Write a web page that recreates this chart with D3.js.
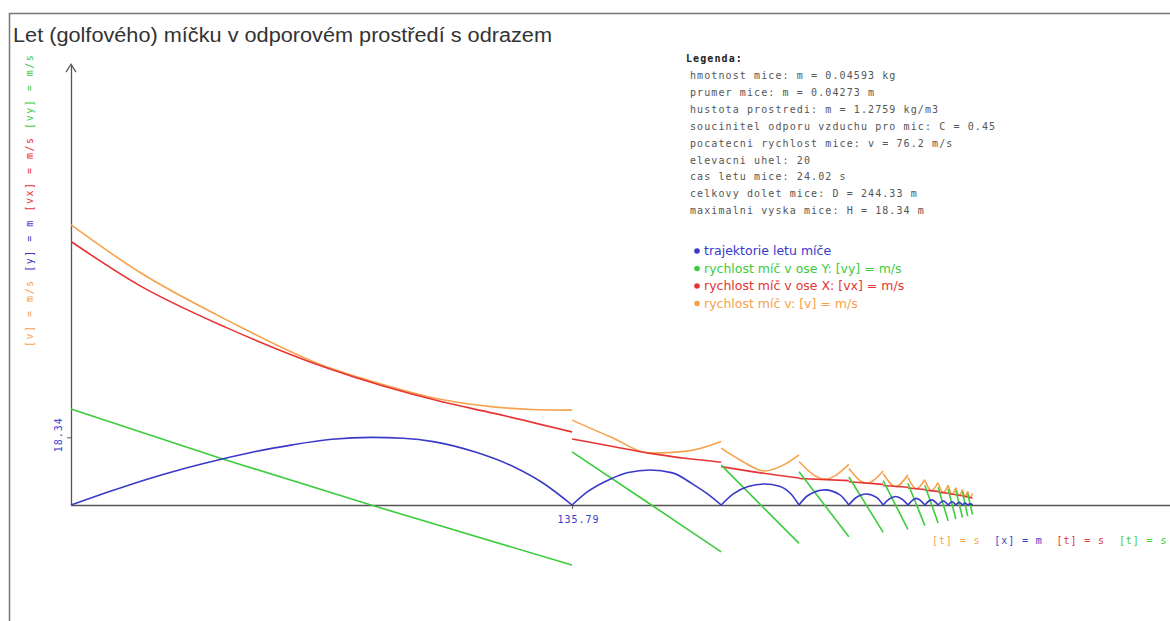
<!DOCTYPE html>
<html>
<head>
<meta charset="utf-8">
<script src="https://cdn.jsdelivr.net/npm/d3@7"></script>
<style>
  html, body { margin: 0; padding: 0; background: #fff; }
  svg { display: block; }
</style>
</head>
<body>
<svg id="chart" width="1170" height="621"></svg>
<script>
// Ball trajectory, one array of [distance m, height m] per hop
const trajHops = [
  [[0,0],[10,3.5],[20,6.8],[30,9.7],[40.7,12.4],[50,14.5],[60,16.3],[70.7,17.8],[81.3,18.34],[90,18.1],[98.6,17.1],[110,14.2],[120.1,10.3],[128,5.9],[135.79,0]],
  [[135.79,0],[140,3.6],[146.1,7.0],[151,8.8],[157,9.5],[163,8.7],[168.6,5.6],[172.5,3.0],[176.2,0]],
  [[176.2,0],[179.5,3.0],[183.5,5.0],[188,5.7],[192,5.1],[195,3.1],[197.3,0]],
  [[197.3,0],[199.6,2.5],[204.3,4.1],[208.3,2.8],[210.8,0]],
  [[210.8,0],[212.6,1.9],[215.6,3.0],[218.4,2.0],[220.1,0]],
  [[220.1,0],[221.6,1.5],[223.5,2.3],[225.3,1.5],[226.8,0]],
  [[226.8,0],[229.1,1.8],[231.4,0]],
  [[231.4,0],[233.2,1.4],[235.0,0]],
  [[235.0,0],[236.4,1.1],[237.7,0]],
  [[237.7,0],[238.8,0.9],[239.8,0]],
  [[239.8,0],[240.7,0.7],[241.6,0]],
  [[241.6,0],[242.3,0.5],[243.0,0]],
  [[243.0,0],[243.7,0.3],[244.33,0]]
];

// Vertical velocity vy [m/s], one segment per hop
const vySegments = [
  [[0,26.0],[40.7,12.6],[81.3,0],[135.79,-16.3]],
  [[135.79,14.4],[157.3,0],[176.2,-12.7]],
  [[176.2,10.8],[197.3,-10.4]],
  [[197.3,9.0],[210.8,-8.6]],
  [[210.8,7.6],[220.1,-7.4]],
  [[220.1,6.6],[226.8,-6.6]],
  [[226.8,5.9],[231.4,-5.6]],
  [[231.4,5.3],[235.0,-4.9]],
  [[235.0,4.8],[237.7,-4.3]],
  [[237.7,4.3],[239.8,-3.8]],
  [[239.8,3.9],[241.6,-3.4]],
  [[241.6,3.5],[243.0,-3.0]],
  [[243.0,3.1],[244.33,-2.6]]
];

// Horizontal velocity vx [m/s]
const vxSegments = [
  [[0,71.4],[18.4,59.6],[42.3,48.0],[69.4,37.1],[100.8,27.9],[114.4,24.9],[135.79,19.8]],
  [[135.79,17.9],[146.1,16.0],[157,14.0],[167,12.6],[176.2,11.6]],
  [[176.2,10.4],[187,8.7],[197.3,7.3]],
  [[197.3,7.2],[210.8,6.6]],
  [[210.8,6.3],[220.1,5.6]],
  [[220.1,5.3],[226.8,4.8]],
  [[226.8,4.6],[231.4,4.2]],
  [[231.4,4.0],[235.0,3.7]],
  [[235.0,3.5],[237.7,3.2]],
  [[237.7,3.1],[239.8,2.8]],
  [[239.8,2.7],[241.6,2.5]],
  [[241.6,2.4],[243.0,2.2]],
  [[243.0,2.1],[244.33,1.9]]
];

// Total speed v [m/s]
const vSegments = [
  [[0,75.9],[18.4,63.2],[42.3,50.1],[69.4,37.4],[81.3,33.6],[100.8,28.5],[114.4,26.6],[125,25.9],[135.79,25.7]],
  [[135.79,23.0],[146.1,18.5],[157,14.1],[167,14.6],[176.2,17.2]],
  [[176.2,15.4],[182,11.8],[188,9.2],[193,10.8],[197.3,13.6]],
  [[197.3,11.8],[204.3,7.0],[210.8,11.0]],
  [[210.8,9.9],[215.6,5.9],[220.1,9.2]],
  [[220.1,8.5],[223.5,5.0],[226.8,8.2]],
  [[226.8,7.5],[229.1,4.4],[231.4,6.9]],
  [[231.4,6.6],[233.2,3.9],[235.0,6.1]],
  [[235.0,5.9],[236.4,3.4],[237.7,5.4]],
  [[237.7,5.3],[238.8,3.0],[239.8,4.7]],
  [[239.8,4.7],[240.7,2.6],[241.6,4.2]],
  [[241.6,4.2],[242.3,2.3],[243.0,3.7]],
  [[243.0,3.7],[243.7,2.0],[244.33,3.2]]
];

const yTicks = [18.34];
const xTicks = [135.79];
const yTop = 119.2;

const titleText = "Let (golfového) míčku v odporovém prostředí s odrazem";
const infoHeader = "Legenda:";
const infoLines = [
  "hmotnost mice: m = 0.04593 kg",
  "prumer mice: m = 0.04273 m",
  "hustota prostredi: m = 1.2759 kg/m3",
  "soucinitel odporu vzduchu pro mic: C = 0.45",
  "pocatecni rychlost mice: v = 76.2 m/s",
  "elevacni uhel: 20",
  "cas letu mice: 24.02 s",
  "celkovy dolet mice: D = 244.33 m",
  "maximalni vyska mice: H = 18.34 m"
];
const seriesNames = [
  "trajektorie letu míče",
  "rychlost míč v ose Y: [vy] = m/s",
  "rychlost míč v ose X: [vx] = m/s",
  "rychlost míč v: [v] = m/s"
];
const yUnitLabels = ["[v] = m/s", "[y] = m", "[vx] = m/s", "[vy] = m/s"];
const xUnitLabels = ["[t] = s", "[x] = m", "[t] = s", "[t] = s"];

const C = { y: "#3a3ac8", vy: "#3ccc3c", vx: "#e63434", v: "#f6a24c", axis: "#555" };
const MONO = "'DejaVu Sans Mono', monospace";

const svg = d3.select("#chart");

// outer frame
svg.append("rect").attr("x", 9.5).attr("y", 13.5).attr("width", 1300).attr("height", 800)
  .attr("fill", "none").attr("stroke", "#777").attr("stroke-width", 1.5);

// title
svg.append("text").attr("x", 13).attr("y", 42).text(titleText)
  .attr("font-family", "'Liberation Sans', Arial, sans-serif").attr("font-size", 20)
  .attr("fill", "#333").attr("textLength", 539).attr("lengthAdjust", "spacingAndGlyphs");

// scales: equal units per pixel on both axes
const unitPx = 3.69, ox = 71, oy = 505;
const xMax = d3.max(trajHops.flat(), d => d[0]);
const x = d3.scaleLinear().domain([0, xMax]).range([ox, ox + xMax * unitPx]);
const y = d3.scaleLinear().domain([0, yTop]).range([oy, oy - yTop * unitPx]);

// axes
const xAxisScale = x.copy().domain([0, x.invert(1170)]).range([ox, 1170]);
const gx = svg.append("g").attr("transform", `translate(0,${oy})`)
  .call(d3.axisBottom(xAxisScale).tickValues(xTicks).tickSize(4).tickSizeOuter(0).tickFormat(d3.format(".2f")));
const gy = svg.append("g").attr("transform", `translate(${ox},0)`)
  .call(d3.axisLeft(y).tickValues(yTicks).tickSize(4).tickSizeOuter(0).tickFormat(d3.format(".2f")));
[gx, gy].forEach(g => {
  g.select(".domain").attr("stroke", C.axis).attr("stroke-width", 1.3);
  g.selectAll(".tick line").attr("stroke", C.axis);
  g.selectAll(".tick text").attr("fill", C.y).attr("font-family", MONO).attr("font-size", 10)
    .attr("letter-spacing", 1);
});
gx.selectAll(".tick text").attr("y", 11).attr("dx", 6);
gy.selectAll(".tick text").attr("transform", "rotate(-90)").attr("x", 3).attr("y", -13)
  .attr("dy", "0.35em").attr("text-anchor", "middle");

// arrow head on the vertical axis
svg.append("path")
  .attr("d", `M${ox - 5},${y(yTop) + 7}L${ox},${y(yTop) - 1}L${ox + 5},${y(yTop) + 7}`)
  .attr("fill", "none").attr("stroke", C.axis).attr("stroke-width", 1.2);

// data lines
const line = d3.line().x(d => x(d[0])).y(d => y(d[1])).curve(d3.curveMonotoneX);
function drawSeries(segs, color) {
  svg.append("g").selectAll("path").data(segs).join("path")
    .attr("d", line).attr("fill", "none").attr("stroke", color)
    .attr("stroke-width", 1.6).attr("stroke-linejoin", "round");
}
drawSeries(vSegments, C.v);
drawSeries(vxSegments, C.vx);
drawSeries(vySegments, C.vy);
drawSeries(trajHops, C.y);

// parameter block
const info = svg.append("g").attr("font-family", MONO).attr("font-size", 10).attr("letter-spacing", 1.1);
info.append("text").attr("x", 686).attr("y", 62).text(infoHeader)
  .attr("font-weight", "bold").attr("fill", "#222");
info.selectAll("text.l").data(infoLines).join("text").attr("class", "l")
  .attr("x", 690).attr("y", (d, i) => 79 + i * 16.9).attr("fill", "#555").text(d => d);

// series legend
const legColors = [C.y, C.vy, C.vx, C.v];
const leg = svg.append("g").selectAll("g").data(seriesNames).join("g")
  .attr("transform", (d, i) => `translate(697,${251 + i * 17.5})`);
leg.append("circle").attr("r", 2.8).attr("fill", (d, i) => legColors[i]);
leg.append("text").attr("x", 7).attr("dy", "0.35em").text(d => d)
  .attr("fill", (d, i) => legColors[i])
  .attr("font-family", "'DejaVu Sans', sans-serif").attr("font-size", 12.5);

// unit labels along the vertical axis
const yUnitColors = [C.v, C.y, C.vx, C.vy];
const yl = svg.append("text").attr("transform", "translate(33,347) rotate(-90)")
  .attr("font-family", MONO).attr("font-size", 10).attr("letter-spacing", 1.5)
  .style("white-space", "pre");
yl.selectAll("tspan").data(yUnitLabels).join("tspan")
  .attr("fill", (d, i) => yUnitColors[i]).text((d, i) => (i ? " " : "") + d);

// unit labels along the horizontal axis
const xUnitColors = [C.v, C.y, C.vx, C.vy];
const xl = svg.append("text").attr("x", 932).attr("y", 544)
  .attr("font-family", MONO).attr("font-size", 10).attr("letter-spacing", 0.9)
  .style("white-space", "pre");
xl.selectAll("tspan").data(xUnitLabels).join("tspan")
  .attr("fill", (d, i) => xUnitColors[i]).text((d, i) => (i ? "  " : "") + d);
</script>
</body>
</html>
